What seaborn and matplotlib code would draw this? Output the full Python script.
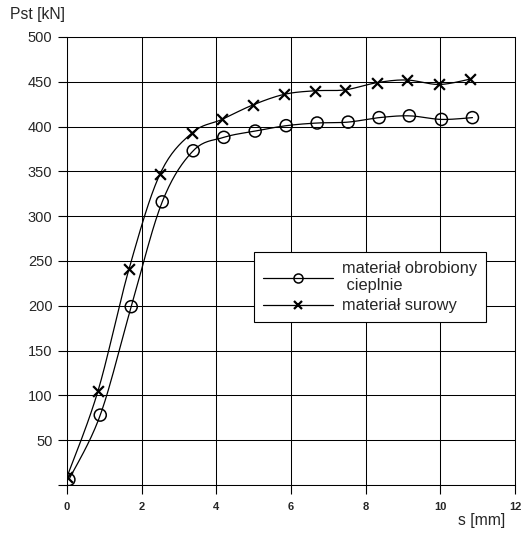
import numpy as np
import seaborn as sns
import matplotlib.pyplot as plt
from matplotlib.lines import Line2D

# values
s_heat = [0.05, 0.89, 1.72, 2.55, 3.38, 4.20, 5.04, 5.87, 6.70, 7.53, 8.36, 9.17, 10.03, 10.86]
p_heat = [6, 78, 199, 316, 373, 388, 395, 401, 404, 405, 410, 412, 408, 410]
s_raw = [0.0, 0.83, 1.66, 2.49, 3.35, 4.15, 4.97, 5.82, 6.65, 7.45, 8.30, 9.10, 9.97, 10.80]
p_raw = [9, 105, 241, 347, 393, 408, 424, 436, 440, 441, 449, 452, 447, 453]
labels = ['materiał obrobiony\n cieplnie', 'materiał surowy']
x_ticks = [0, 2, 4, 6, 8, 10, 12]
y_ticks = [0, 50, 100, 150, 200, 250, 300, 350, 400, 450, 500]


def smooth(x, y, n=20):
    # Catmull-Rom style bezier through the points (like a spreadsheet "smoothed line")
    p = np.column_stack([x, y]).astype(float)
    p = np.vstack([p[0], p, p[-1]])
    t = np.linspace(0, 1, n)[:, None]
    out = []
    for i in range(1, len(p) - 2):
        p0, p1, p2, p3 = p[i - 1], p[i], p[i + 1], p[i + 2]
        c1 = p1 + (p2 - p0) / 6
        c2 = p2 - (p3 - p1) / 6
        seg = ((1 - t) ** 3) * p1 + 3 * ((1 - t) ** 2) * t * c1 + 3 * (1 - t) * t ** 2 * c2 + t ** 3 * p2
        out.append(seg)
    out = np.vstack(out)
    return out[:, 0], out[:, 1]


sns.set_style('white')
plt.rcParams['font.family'] = ['Liberation Sans', 'DejaVu Sans']

fig = plt.figure(figsize=(5.22, 5.33), dpi=100)
ax = fig.add_axes([0.1284, 0.0901, 0.8582, 0.8405])

for xs, ys in [(s_heat, p_heat), (s_raw, p_raw)]:
    cx, cy = smooth(xs, ys)
    sns.lineplot(x=cx, y=cy, ax=ax, color='black', lw=0.9, sort=False, estimator=None)

sns.scatterplot(x=s_heat, y=p_heat, ax=ax, marker='o', s=75, facecolor='none',
                edgecolor='black', linewidth=1.1, zorder=3)
sns.scatterplot(x=s_raw, y=p_raw, ax=ax, marker='x', s=60, color='black',
                linewidth=1.6, zorder=3)

ax.set_xlim(0, 12)
ax.set_ylim(0, 500)
ax.set_xticks(x_ticks)
ax.set_yticks(y_ticks)
ax.set_xticklabels([str(v) for v in x_ticks], fontsize=8, fontweight='bold')
ax.set_yticklabels([''] + [str(v) for v in y_ticks[1:]], fontsize=10.5)
ax.tick_params(axis='both', bottom=True, left=True, length=6.5, width=0.8,
               color='black', direction='out')
ax.tick_params(axis='x', pad=6)
ax.tick_params(axis='y', pad=4)
ax.grid(True, color='black', lw=0.75)
for sp in ax.spines.values():
    sp.set_color('black')
    sp.set_linewidth(0.75)

fig.text(10 / 522, 1 - 14 / 533, 'Pst [kN]', fontsize=11.3, ha='left', va='center')
fig.text(505 / 522, 1 - 520 / 533, 's [mm]', fontsize=11.3, ha='right', va='center')

handles = [
    Line2D([], [], color='black', lw=0.9, marker='o', markersize=6.5,
           markerfacecolor='none', markeredgecolor='black', markeredgewidth=1.1),
    Line2D([], [], color='black', lw=0.9, marker='x', markersize=6,
           markeredgewidth=1.6),
]
leg = ax.legend(handles, labels, loc='upper left', bbox_to_anchor=(0.417, 0.52),
                fontsize=11.8, frameon=True, fancybox=False, framealpha=1,
                edgecolor='black', handlelength=4.3, handletextpad=0.5,
                borderpad=0.55, labelspacing=0.3, borderaxespad=0)
leg.get_frame().set_linewidth(0.8)

fig.savefig('out.png', dpi=100)
